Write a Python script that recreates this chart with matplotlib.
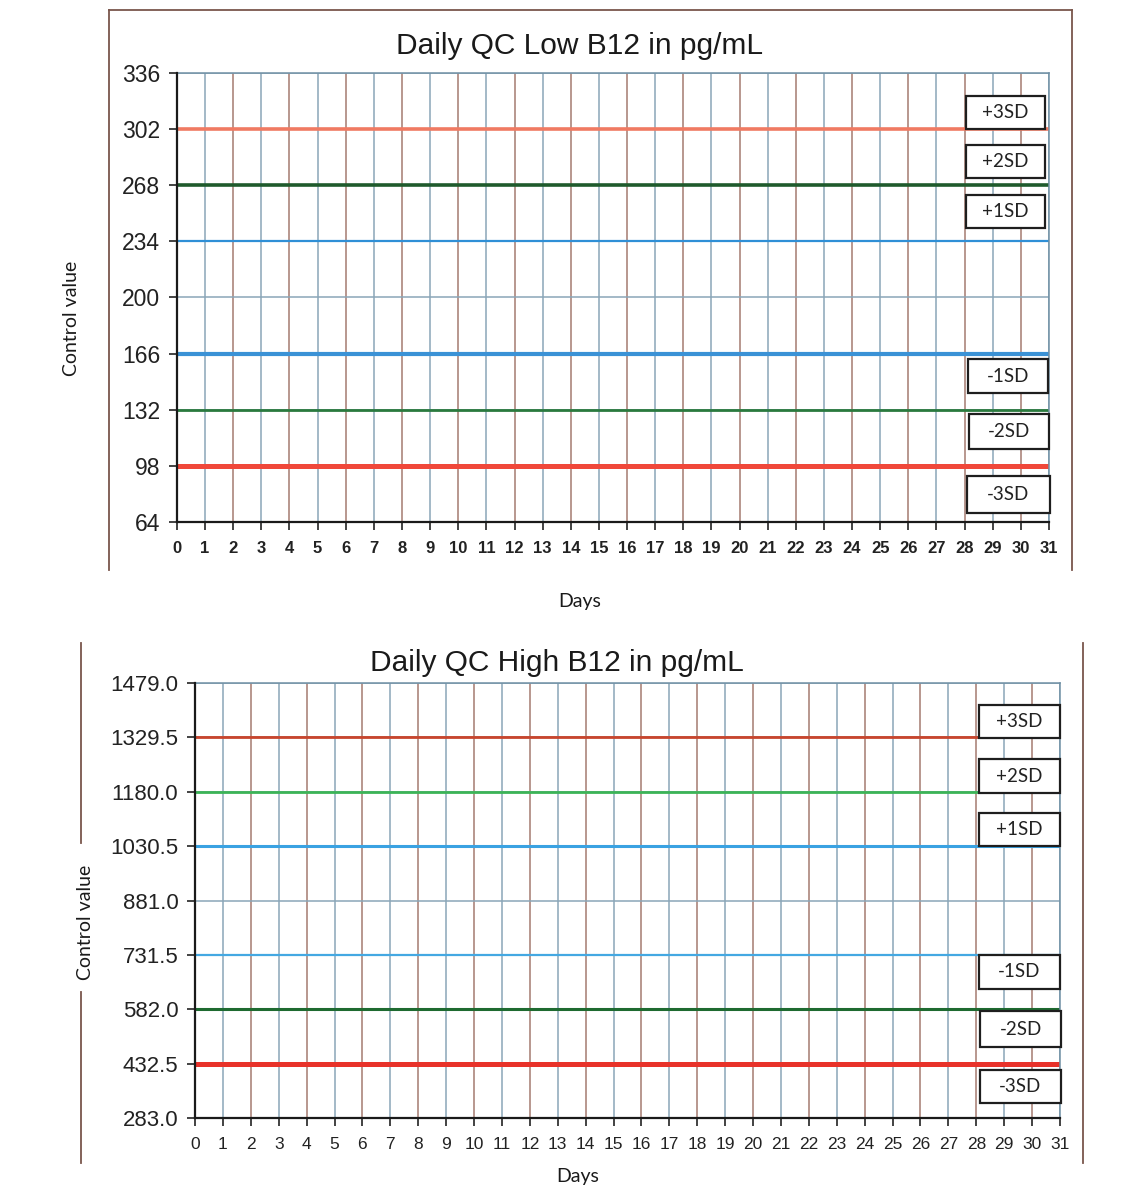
import matplotlib
matplotlib.use("Agg")
import matplotlib.pyplot as plt
from matplotlib.lines import Line2D
from matplotlib.patches import Rectangle

# ---------------- data ----------------
days = list(range(0, 32))

low_title = "Daily QC Low B12 in pg/mL"
low_yticks = [64, 98, 132, 166, 200, 234, 268, 302, 336]
low_levels = [302, 268, 234, 166, 132, 98]

high_title = "Daily QC High B12 in pg/mL"
high_yticks = [283.0, 432.5, 582.0, 731.5, 881.0, 1030.5, 1180.0, 1329.5, 1479.0]
high_levels = [1329.5, 1180.0, 1030.5, 731.5, 582.0, 432.5]

sd_labels = ["+3SD", "+2SD", "+1SD", "-1SD", "-2SD", "-3SD"]

# ---------------- styles ----------------
low_line_styles = [("#f07a62", 2.6), ("#1f5a2c", 2.6), ("#2f8fd6", 1.6),
                   ("#3a92d6", 3.0), ("#2a7a3e", 2.0), ("#f0483a", 3.6)]
high_line_styles = [("#c8452e", 2.0), ("#3cb457", 2.0), ("#3aa2e2", 2.2),
                    ("#44a8e2", 1.6), ("#1e6a30", 2.2), ("#e8322a", 3.6)]

# boxes in axes fraction: (x0, x1, y_bottom, y_top)
low_boxes = [(0.905, 0.995, 0.875, 0.949), (0.905, 0.995, 0.766, 0.840),
             (0.905, 0.995, 0.655, 0.728), (0.907, 0.999, 0.287, 0.363),
             (0.908, 1.000, 0.163, 0.241), (0.906, 1.001, 0.020, 0.102)]
high_boxes = [(0.906, 1.000, 0.874, 0.949), (0.906, 1.000, 0.747, 0.825),
              (0.906, 1.000, 0.625, 0.701), (0.906, 1.000, 0.297, 0.375),
              (0.908, 1.001, 0.163, 0.246), (0.907, 1.001, 0.034, 0.110)]

GRID_A = "#a47a70"
GRID_B = "#8aa6b8"
FRAME = "#7a564c"

fig = plt.figure(figsize=(11.35, 11.88), dpi=100)
fig.patch.set_facecolor("white")


def draw_chart(ax, yticks, levels, styles, boxes, fmt, xtick_weight, xtick_size, ytick_size):
    ax.set_xlim(days[0], days[-1])
    ax.set_ylim(yticks[0], yticks[-1])
    ax.set_xticks(days)
    ax.set_yticks(yticks)
    ax.set_yticklabels([fmt.format(v) for v in yticks], fontsize=ytick_size,
                       family="Liberation Sans", color="#222222")
    ax.set_xticklabels([str(d) for d in days], fontsize=xtick_size,
                       family="Liberation Sans", fontweight=xtick_weight,
                       color="#222222")
    ax.tick_params(axis="both", direction="out", length=6, width=1.2,
                   color="#222222")
    ax.tick_params(axis="y", pad=6)
    ax.tick_params(axis="x", pad=8)
    for d in days[1:]:
        ax.axvline(d, color=GRID_A if d % 2 == 0 else GRID_B, lw=1.1, zorder=1)
    for i, v in enumerate(yticks[1:]):
        ax.axhline(v, color=GRID_A if i % 2 == 0 else GRID_B, lw=1.1, zorder=1)
    for v, (c, lw) in zip(levels, styles):
        ax.plot([days[0], days[-1]], [v, v], color=c, lw=lw, zorder=2,
                solid_capstyle="butt")
    for lab, (x0, x1, y0, y1) in zip(sd_labels, boxes):
        ax.add_patch(Rectangle((x0, y0), x1 - x0, y1 - y0, transform=ax.transAxes,
                               facecolor="white", edgecolor="#1e1e1e", lw=1.6,
                               zorder=5, clip_on=False))
        ax.text((x0 + x1) / 2, (y0 + y1) / 2, lab, transform=ax.transAxes,
                ha="center", va="center", fontsize=13.5, family="Lato",
                color="#222222", zorder=6)
    for s in ["left", "bottom"]:
        ax.spines[s].set_color("#1a1a1a")
        ax.spines[s].set_linewidth(1.6)
        ax.spines[s].set_zorder(4)
    for s in ["top", "right"]:
        ax.spines[s].set_color("#6f8fa4")
        ax.spines[s].set_linewidth(1.1)


# ---- top chart ----
ax1 = fig.add_axes([0.1559, 0.5606, 0.7683, 0.3780])
draw_chart(ax1, low_yticks, low_levels, low_line_styles, low_boxes, "{:.0f}",
           "bold", 12, 16.5)
fig.text(0.511, 0.961, low_title, ha="center", va="center", fontsize=21.5,
         family="Liberation Sans", color="#1a1a1a")
fig.text(0.0634, 0.732, "Control value", rotation=90, ha="center", va="center",
         fontsize=14, family="Lato", color="#1a1a1a")
fig.text(0.511, 0.494, "Days", ha="center", va="center", fontsize=14,
         family="Lato", color="#1a1a1a")
for (x0, y0, x1, y1) in [(0.0960, 0.9916, 0.0960, 0.5202),
                         (0.0960, 0.9916, 0.9445, 0.9916),
                         (0.9445, 0.9916, 0.9445, 0.5202)]:
    fig.add_artist(Line2D([x0, x1], [y0, y1], color=FRAME, lw=1.3))

# ---- bottom chart ----
ax2 = fig.add_axes([0.1718, 0.0589, 0.7621, 0.3662])
draw_chart(ax2, high_yticks, high_levels, high_line_styles, high_boxes, "{:.1f}",
           "normal", 12.5, 16)
fig.text(0.491, 0.442, high_title, ha="center", va="center", fontsize=21.5,
         family="Liberation Sans", color="#1a1a1a")
fig.text(0.0749, 0.224, "Control value", rotation=90, ha="center", va="center",
         fontsize=14, family="Lato", color="#1a1a1a")
fig.text(0.509, 0.0093, "Days", ha="center", va="center", fontsize=14,
         family="Lato", color="#1a1a1a")
for (x0, y0, x1, y1) in [(0.0714, 0.4588, 0.0714, 0.2904),
                         (0.0714, 0.1650, 0.0714, 0.0210),
                         (0.9542, 0.4588, 0.9542, 0.0210)]:
    fig.add_artist(Line2D([x0, x1], [y0, y1], color=FRAME, lw=1.3))

fig.savefig("out.png", dpi=100, facecolor="white")
